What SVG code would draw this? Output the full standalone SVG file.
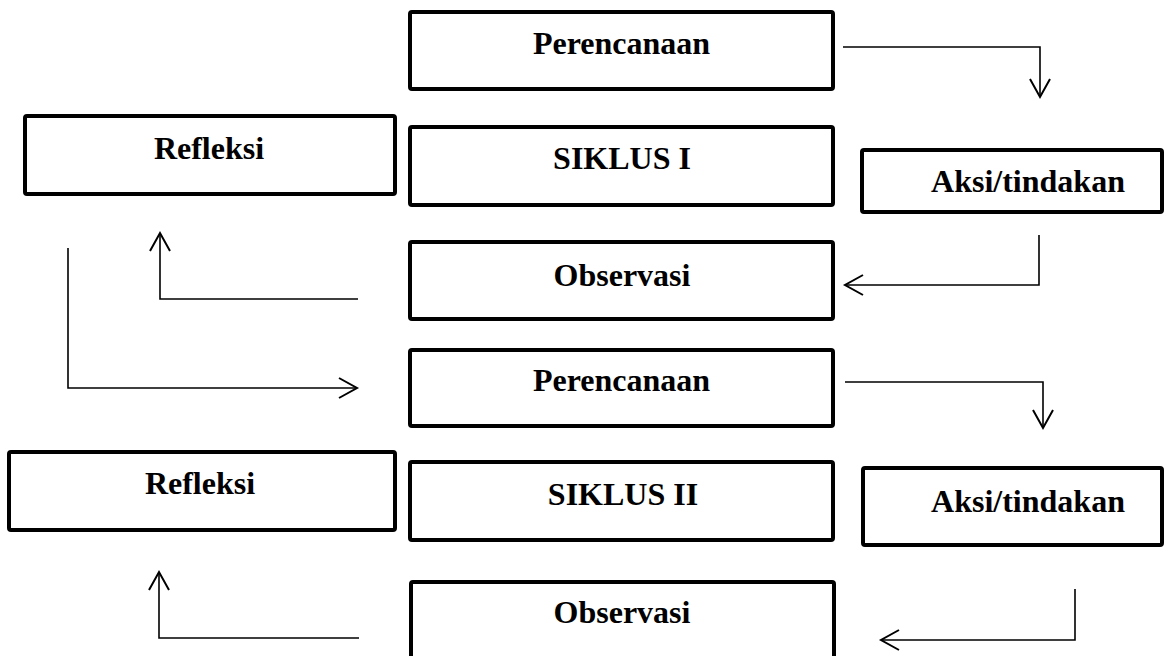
<svg xmlns="http://www.w3.org/2000/svg" width="1169" height="656" viewBox="0 0 1169 656">
<style>
.box{fill:#fff;stroke:#000;stroke-width:4;}
.lbl{font-family:"Liberation Serif","Times New Roman",serif;font-weight:bold;font-size:32px;fill:#000;text-anchor:middle;}
.con{fill:none;stroke:#000;stroke-width:1.6;}
</style>
<defs>
<marker id="ah" markerUnits="userSpaceOnUse" markerWidth="24" markerHeight="26" refX="19" refY="11" orient="auto" viewBox="0 0 24 26">
<path d="M1,1 L19,11 L1,21" fill="none" stroke="#000" stroke-width="2"/>
</marker>
</defs>
<rect width="1169" height="656" fill="#fff"/>
<g id="perencanaan1"><rect class="box" x="410" y="12" width="423" height="77" rx="2"/><text class="lbl" x="621.5" y="54">Perencanaan</text></g>
<g id="siklus1"><rect class="box" x="410" y="127" width="423" height="78" rx="2"/><text class="lbl" x="622" y="169">SIKLUS I</text></g>
<g id="refleksi1"><rect class="box" x="25" y="116" width="370" height="78" rx="2"/><text class="lbl" x="209" y="159">Refleksi</text></g>
<g id="aksi1"><rect class="box" x="862" y="150" width="300" height="62" rx="2"/><text class="lbl" x="1028" y="192">Aksi/tindakan</text></g>
<g id="observasi1"><rect class="box" x="410" y="242" width="423" height="77" rx="2"/><text class="lbl" x="622" y="286">Observasi</text></g>
<g id="perencanaan2"><rect class="box" x="410" y="350" width="423" height="76" rx="2"/><text class="lbl" x="621.5" y="391">Perencanaan</text></g>
<g id="refleksi2"><rect class="box" x="9" y="452" width="386" height="78" rx="2"/><text class="lbl" x="200" y="494">Refleksi</text></g>
<g id="siklus2"><rect class="box" x="410" y="462" width="423" height="78" rx="2"/><text class="lbl" x="623" y="505">SIKLUS II</text></g>
<g id="aksi2"><rect class="box" x="863" y="468" width="299" height="77" rx="2"/><text class="lbl" x="1028" y="512">Aksi/tindakan</text></g>
<g id="observasi2"><rect class="box" x="411" y="582" width="423" height="90" rx="2"/><text class="lbl" x="622" y="623">Observasi</text></g>
<g id="connectors">
<path class="con" d="M843,47 H1040 V97" marker-end="url(#ah)"/>
<path class="con" d="M1039,235 V285 H845" marker-end="url(#ah)"/>
<path class="con" d="M358,299 H160 V233" marker-end="url(#ah)"/>
<path class="con" d="M68,248 V388 H357" marker-end="url(#ah)"/>
<path class="con" d="M845,382 H1043 V428" marker-end="url(#ah)"/>
<path class="con" d="M1075,589 V640 H881" marker-end="url(#ah)"/>
<path class="con" d="M359,638 H159 V572" marker-end="url(#ah)"/>
</g>
</svg>
